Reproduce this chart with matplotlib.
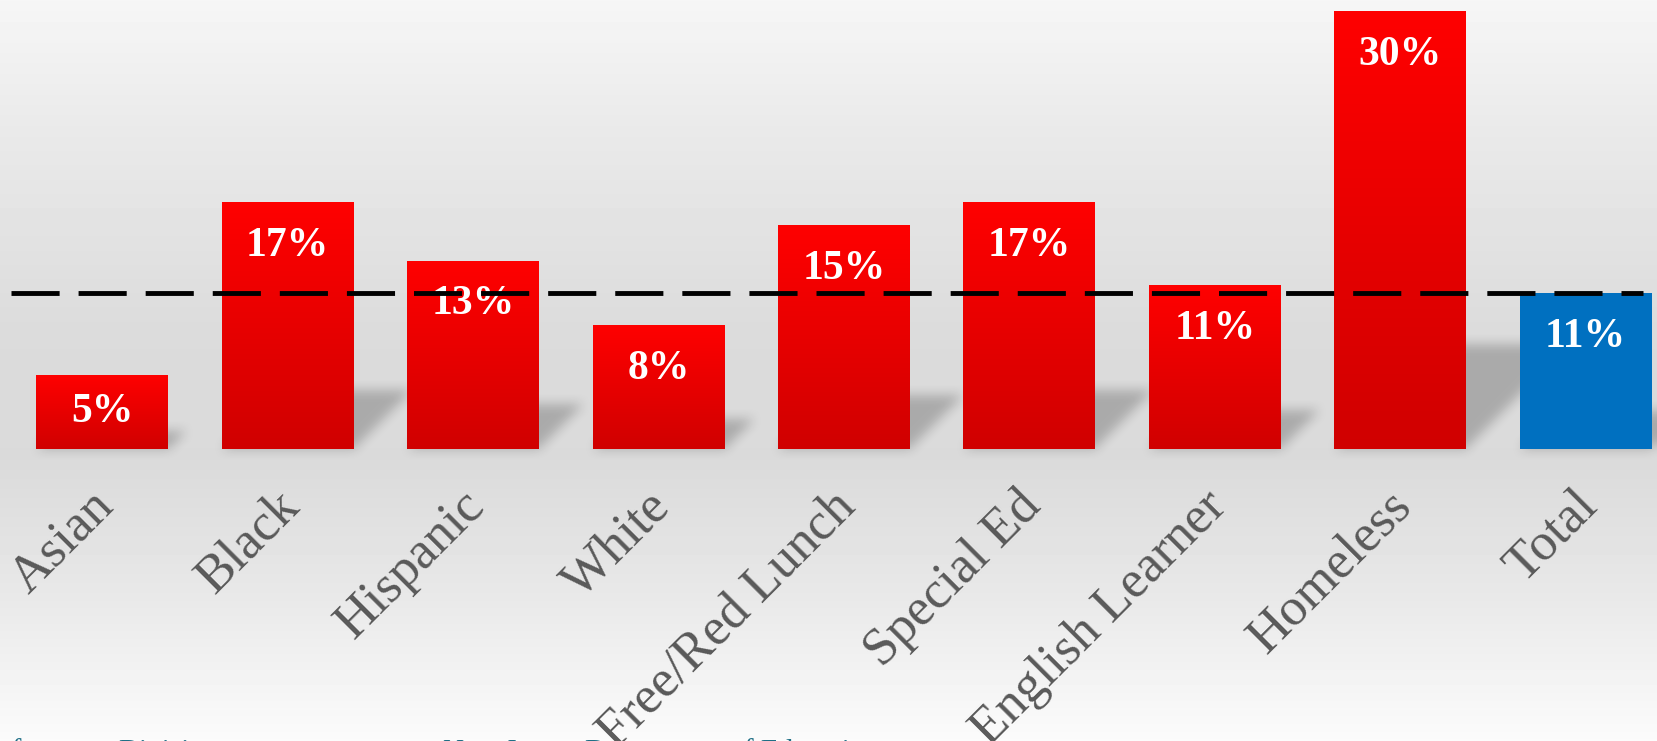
import numpy as np
import matplotlib
matplotlib.use("Agg")
import matplotlib.pyplot as plt
from matplotlib.colors import LinearSegmentedColormap

# data
categories = ["Asian", "Black", "Hispanic", "White", "Free/Red Lunch",
              "Special Ed", "English Learner", "Homeless", "Total"]
values = [5.1, 16.9, 12.9, 8.5, 15.3, 16.9, 11.2, 30.0, 10.7]
value_labels = ["5%", "17%", "13%", "8%", "15%", "17%", "11%", "30%", "11%"]
total_rate = 10.7
source_parts = ["of", "Division", "New Jersey Department of Education"]

W, H, DPI = 1658, 741, 100
XLIM = (-0.55, 8.39)
YLIM = (-19.98, 30.73)


def box_blur(a, r):
    """Separable box blur, run twice for a softer edge."""
    for _ in range(2):
        for axis in (0, 1):
            pad = [(0, 0), (0, 0)]
            pad[axis] = (r + 1, r)
            c = np.cumsum(np.pad(a, pad, mode="edge"), axis=axis)
            if axis == 0:
                a = (c[2 * r + 1:, :] - c[:-2 * r - 1, :]) / (2 * r + 1)
            else:
                a = (c[:, 2 * r + 1:] - c[:, :-2 * r - 1]) / (2 * r + 1)
    return a


fig = plt.figure(figsize=(W / DPI, H / DPI), dpi=DPI)
ax = fig.add_axes([0, 0, 1, 1])
ax.set_xlim(*XLIM)
ax.set_ylim(*YLIM)
ax.axis("off")

# background: light at top/bottom, greyer around the baseline
stops = [(0.0, 0.965), (0.18, 0.915), (0.45, 0.86), (0.62, 0.855),
         (0.8, 0.91), (1.0, 0.985)]
yy = np.linspace(0, 1, H)
g = np.interp(yy, [s[0] for s in stops], [s[1] for s in stops])
ax.imshow(g[:, None], extent=(XLIM[0], XLIM[1], YLIM[0], YLIM[1]),
          origin="upper", aspect="auto", cmap="gray", vmin=0, vmax=1, zorder=0)

x = np.arange(len(categories))
width = 0.71

# soft cast shadows behind the bars, slanting up to the right
px_x = W / (XLIM[1] - XLIM[0])
px_y = H / (YLIM[1] - YLIM[0])
gx = np.linspace(XLIM[0], XLIM[1], W)
gy = np.linspace(YLIM[1], YLIM[0], H)
GX, GY = np.meshgrid(gx, gy)
mask = np.zeros((H, W))
for xi, v in zip(x, values):
    shift = GY * px_y / px_x
    inside = ((GY >= 0) & (GY <= 0.24 * v)
              & (GX >= xi - width / 2 + shift) & (GX <= xi + width / 2 + shift))
    mask[inside] = 1.0
mask = box_blur(mask, 6)
shadow = np.zeros((H, W, 4))
shadow[..., 3] = mask * 0.22
ax.imshow(shadow, extent=(*XLIM, *YLIM), aspect="auto", zorder=1)

# bars, with a vertical red gradient on all but the total
colors = ["#e00000"] * (len(categories) - 1) + ["#0070c0"]
bars = ax.bar(x, values, width=width, color=colors, zorder=2)
red = LinearSegmentedColormap.from_list("red", ["#d00000", "#ff0000"])
grad = np.linspace(0, 1, 256)[:, None]
for b in bars[:-1]:
    x0, y0 = b.get_x(), b.get_y()
    im = ax.imshow(grad, extent=(x0, x0 + b.get_width(), y0, y0 + b.get_height()),
                   origin="lower", aspect="auto", cmap=red, zorder=3)
    im.set_clip_path(b)

# value labels inside the bars
for xi, v, lab in zip(x, values, value_labels):
    ax.text(xi, max(v - 3.0, v / 2), lab, ha="center", va="center",
            color="white", fontsize=30, fontweight="bold",
            family="Liberation Serif", zorder=4)

# dashed line for the overall rate
ax.plot([-0.49, 8.31], [total_rate, total_rate], color="black", lw=3.5,
        dashes=(9.9, 3.9), solid_capstyle="butt", dash_capstyle="butt", zorder=5)

# rotated category labels
for xi, cat in zip(x, categories):
    ax.text(xi - 0.07, -2.25, cat, rotation=45, rotation_mode="anchor",
            ha="right", va="top", color="#595959", fontsize=38,
            family="Liberation Serif", zorder=4)

# source line, mostly cut off by the bottom edge
for xp, s in zip([-2, 118, 443], source_parts):
    fig.text(xp / W, -18 / H, s, ha="left", va="baseline", color="#1f6f86",
             fontsize=21, family="Liberation Serif")

fig.savefig("out.png", dpi=DPI)
